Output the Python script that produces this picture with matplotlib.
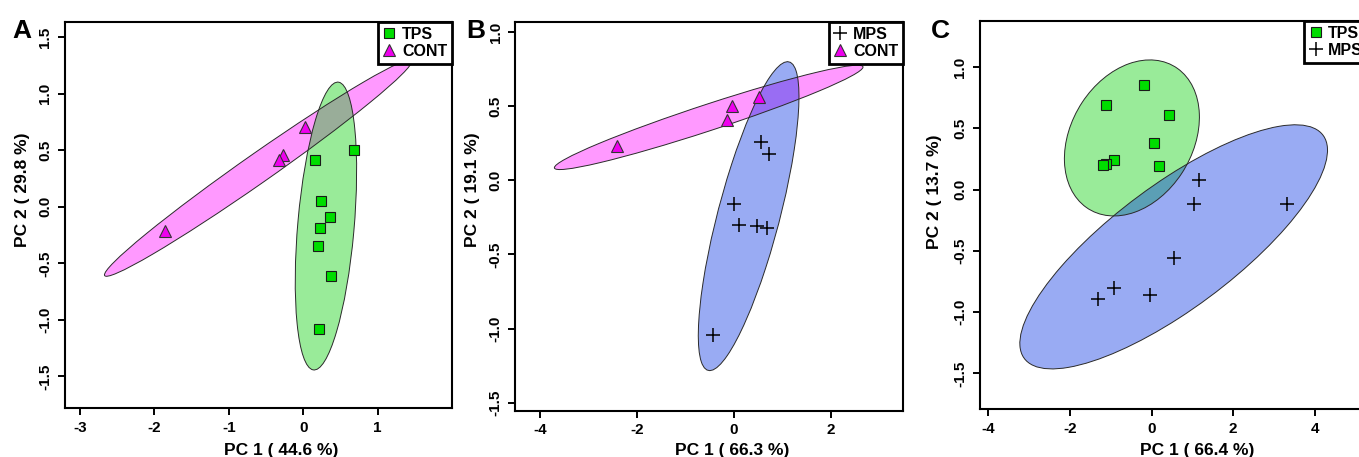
import numpy as np
import matplotlib.pyplot as plt
from matplotlib.patches import Ellipse

plt.rcParams['font.family'] = ['Liberation Sans', 'DejaVu Sans']
plt.rcParams['font.weight'] = 'bold'
plt.rcParams['axes.unicode_minus'] = False

# panel A: TPS vs CONT
a_tps_x = [0.68, 0.16, 0.24, 0.36, 0.23, 0.20, 0.37, 0.21]
a_tps_y = [0.50, 0.41, 0.05, -0.09, -0.19, -0.35, -0.61, -1.08]
a_cont_x = [0.02, -0.27, -0.32, -1.85]
a_cont_y = [0.71, 0.46, 0.41, -0.21]

# panel B: MPS vs CONT
b_mps_x = [0.56, 0.72, 0.00, 0.10, 0.48, 0.67, -0.43]
b_mps_y = [0.26, 0.18, -0.16, -0.30, -0.31, -0.32, -1.04]
b_cont_x = [-2.42, -0.14, -0.05, 0.52]
b_cont_y = [0.23, 0.41, 0.50, 0.56]

# panel C: TPS vs MPS
c_tps_x = [-0.18, -1.12, 0.44, 0.07, -0.92, -1.12, -1.19, 0.18]
c_tps_y = [0.85, 0.69, 0.61, 0.38, 0.24, 0.21, 0.20, 0.19]
c_mps_x = [1.17, 1.03, 3.31, 0.56, -0.91, -1.32, -0.04]
c_mps_y = [0.08, -0.12, -0.12, -0.56, -0.80, -0.89, -0.86]

xlabels = ['PC 1 ( 44.6 %)', 'PC 1 ( 66.3 %)', 'PC 1 ( 66.4 %)']
ylabels = ['PC 2 ( 29.8 %)', 'PC 2 ( 19.1 %)', 'PC 2 ( 13.7 %)']
letters = ['A', 'B', 'C']

styles = {
    'TPS': dict(marker='s', mfc='#00DD00', mec='#1a1a1a', mew=0.8, ms=7, ls='none'),
    'CONT': dict(marker='^', mfc='#EE00EE', mec='#333333', mew=0.8, ms=8, ls='none'),
    'MPS': dict(marker='+', color='black', mew=1.1, ms=10, ls='none'),
}
fills = {'TPS': '#00CD00', 'CONT': '#FF00FF', 'MPS': '#002DE1'}


def conf_ellipse(ax, x, y, color):
    # 95% normal ellipse from the group covariance
    x = np.asarray(x)
    y = np.asarray(y)
    cov = np.cov(x, y)
    vals, vecs = np.linalg.eigh(cov)
    k = np.sqrt(5.991)
    ang = np.degrees(np.arctan2(vecs[1, 1], vecs[0, 1]))
    w = 2 * k * np.sqrt(vals[1])
    h = 2 * k * np.sqrt(vals[0])
    ax.add_patch(Ellipse((x.mean(), y.mean()), w, h, angle=ang, facecolor=color,
                         alpha=0.4, edgecolor='none', zorder=1))
    ax.add_patch(Ellipse((x.mean(), y.mean()), w, h, angle=ang, facecolor='none',
                         edgecolor='#2a2a2a', lw=0.7, zorder=2))


fig = plt.figure(figsize=(13.59, 4.57), dpi=100)
pos = [[0.0478, 0.1072, 0.2848, 0.8446],
       [0.379, 0.1007, 0.2855, 0.851],
       [0.7211, 0.105, 0.2855, 0.849]]

panels = [
    [('CONT', a_cont_x, a_cont_y), ('TPS', a_tps_x, a_tps_y)],
    [('CONT', b_cont_x, b_cont_y), ('MPS', b_mps_x, b_mps_y)],
    [('TPS', c_tps_x, c_tps_y), ('MPS', c_mps_x, c_mps_y)],
]
legend_order = [['TPS', 'CONT'], ['MPS', 'CONT'], ['TPS', 'MPS']]
xlims = [(-3.2, 2.0), (-4.51, 3.48), (-4.2, 5.3)]
ylims = [(-1.78, 1.635), (-1.556, 1.068), (-1.79, 1.375)]
xticks = [[-3, -2, -1, 0, 1], [-4, -2, 0, 2], [-4, -2, 0, 2, 4]]
yticks = [[-1.5, -1.0, -0.5, 0.0, 0.5, 1.0, 1.5],
          [-1.5, -1.0, -0.5, 0.0, 0.5, 1.0],
          [-1.5, -1.0, -0.5, 0.0, 0.5, 1.0]]
xlab_y = [-0.0907, -0.082, -0.088]
ylab_x = [-0.0904, -0.090, -0.098]
ylab_y = [0.565, 0.568, 0.559]
letter_x = [12, 466, 931]

for i in range(3):
    ax = fig.add_axes(pos[i])
    handles = {}
    for name, gx, gy in panels[i]:
        conf_ellipse(ax, gx, gy, fills[name])
    for name, gx, gy in panels[i]:
        h, = ax.plot(gx, gy, zorder=3, label=name, **styles[name])
        handles[name] = h
    ax.set_xlim(xlims[i])
    ax.set_ylim(ylims[i])
    ax.set_xticks(xticks[i])
    ax.set_yticks(yticks[i])
    ax.set_yticklabels(['%.1f' % v for v in yticks[i]])
    ax.tick_params(length=5, width=1.4, pad=4, labelsize=11)
    for lab in ax.get_yticklabels():
        lab.set_rotation(90)
        lab.set_va('center')
    for s in ax.spines.values():
        s.set_linewidth(1.5)
    ax.set_xlabel(xlabels[i], fontsize=12.5, fontweight='bold')
    ax.set_ylabel(ylabels[i], fontsize=12.5, fontweight='bold')
    ax.xaxis.set_label_coords(0.559, xlab_y[i])
    ax.yaxis.set_label_coords(ylab_x[i], ylab_y[i])
    leg = ax.legend([handles[n] for n in legend_order[i]], legend_order[i],
                    loc='upper right', borderaxespad=0, fancybox=False,
                    edgecolor='black', framealpha=1, prop={'weight': 'bold', 'size': 11.5},
                    handlelength=0.8, handletextpad=0.4, borderpad=0.3, labelspacing=0.12)
    leg.get_frame().set_linewidth(2)
    fig.text(letter_x[i] / 1359, (457 - 38) / 457, letters[i], fontsize=19,
             fontweight='bold', ha='left', va='baseline')

fig.savefig('out.png', dpi=100)
